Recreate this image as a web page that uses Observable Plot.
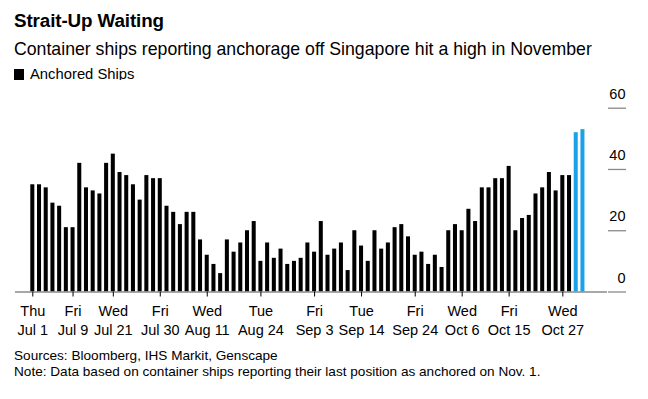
<!DOCTYPE html>
<html><head><meta charset="utf-8">
<script src="https://cdn.jsdelivr.net/npm/d3@7"></script>
<script src="https://cdn.jsdelivr.net/npm/@observablehq/plot@0.6"></script>
<style>
body{margin:0;background:#fff;font-family:"Liberation Sans",Arial,sans-serif;color:#000;}
#wrap{position:relative;width:648px;height:399px;overflow:hidden;background:#fff;}
.t{position:absolute;left:14px;white-space:nowrap;}
#chart{position:absolute;left:0;top:80px;}
</style></head><body><div id="wrap">
<div class="t" style="top:12px;font-size:18.8px;line-height:18px;font-weight:bold;letter-spacing:-0.1px;">Strait-Up Waiting</div>
<div class="t" style="top:40px;font-size:17.7px;line-height:18px;">Container ships reporting anchorage off Singapore hit a high in November</div>
<div class="t" style="top:67px;font-size:14.8px;line-height:15px;"><span style="display:inline-block;width:10px;height:11px;background:#000;margin-right:6px;vertical-align:-1px;"></span>Anchored Ships</div>
<div id="chart"></div>
<div class="t" style="top:348px;font-size:13.6px;line-height:16px;">Sources: Bloomberg, IHS Markit, Genscape<br>Note: Data based on container ships reporting their last position as anchored on Nov. 1.</div>
</div>
<script>
const values = [35,35,34,29,28,21,21,42,34,33,32,42,45,39,38,35,30,38,37,37,28,26,22,26,26,17,12,9,6,17,13,16,20,23,10,16,11,14,9,10,11,16,13,23,12,14,16,7,20,15,10,20,14,16,21,22,18,12,13,9,12,8,20,22,20,27,23,34,34,37,37,41,20,24,25,32,34,39,33,38,38,52,53];
const blueBars = [81, 82];
const tickIdx = [0,6,12,19,26,34,42,49,57,64,71,79];
const tickDay = ["Thu","Fri","Wed","Fri","Wed","Tue","Fri","Tue","Fri","Wed","Fri","Wed"];
const tickDate = ["Jul 1","Jul 9","Jul 21","Jul 30","Aug 11","Aug 24","Sep 3","Sep 14","Sep 24","Oct 6","Oct 15","Oct 27"];
const yTicks = [0,20,40,60];

const data = values.map((v,i)=>({i, v, c: blueBars.includes(i) ? "#1ba1e8" : "#000000"}));
const dayOf = i => tickDay[tickIdx.indexOf(i)];
const dateOf = i => tickDate[tickIdx.indexOf(i)];

const chart = Plot.plot({
  width: 648, height: 262,
  marginTop: 27.7, marginBottom: 50.5, marginLeft: 15, marginRight: 41,
  style: {fontFamily: "Liberation Sans, Arial, sans-serif", fontSize: "14.5px", color: "#000", background: "#fff", overflow: "visible"},
  x: {type: "band", domain: d3.range(values.length), paddingInner: 0.4, paddingOuter: 0.2, insetLeft: 13.95, insetRight: 21.2, axis: null},
  y: {domain: [0, 60], axis: null},
  color: {type: "identity"},
  marks: [
    Plot.barY(data, {x: "i", y: "v", fill: "c"}),
    Plot.ruleY([0], {stroke: "#8a8a8a", strokeWidth: 1.3}),
    Plot.axisY(yTicks, {anchor: "right", label: null, tickSize: 18, tickFormat: () => "", stroke: "#8a8a8a", strokeWidth: 1.3}),
    Plot.axisY(yTicks, {anchor: "right", label: null, tickSize: 0, tickPadding: 18, textAnchor: "end", dy: -14, fill: "#000"}),
    Plot.axisX(tickIdx, {anchor: "bottom", label: null, tickSize: 5, tickPadding: 9, tickFormat: dayOf, stroke: "#000", fill: "#000"}),
    Plot.axisX(tickIdx, {anchor: "bottom", label: null, tickSize: 0, tickPadding: 14, dy: 19, tickFormat: dateOf, fill: "#000"})
  ]
});
document.getElementById("chart").appendChild(chart);
</script>
</body></html>
